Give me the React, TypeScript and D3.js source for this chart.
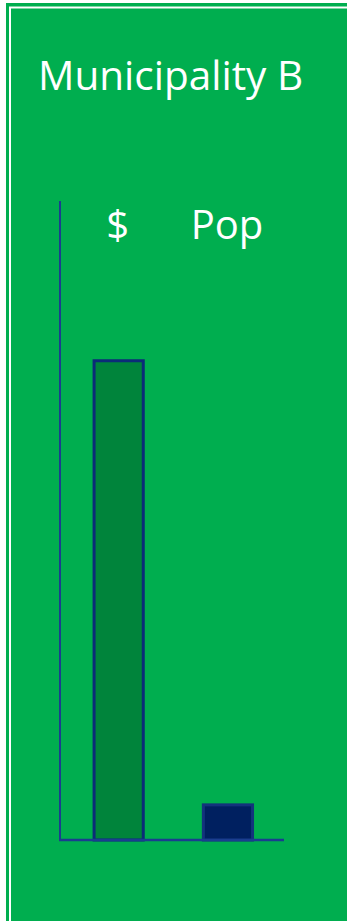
import React from "react";
import * as d3 from "d3";

// Chart data
const categories: string[] = ["$", "Pop"];
const shares: number[] = [75, 5.5];
const barFills: string[] = ["#00843B", "#002060"];
const barStrokes: string[] = ["#0B2C78", "#13337C"];
const title = "Municipality B";

const W = 347;
const H = 921;

export default function App() {
  const x = d3
    .scaleBand<string>()
    .domain(categories)
    .range([60, 284])
    .paddingInner(0.55)
    .paddingOuter(0.3)
    .align(0.52);

  const y = d3.scaleLinear().domain([0, 100]).range([840, 201]);

  const font = "'Open Sans', 'DejaVu Sans', sans-serif";

  return (
    <svg
      width={W}
      height={H}
      style={{ position: "absolute", left: 0, top: 0, display: "block" }}
    >
      <rect x={0} y={0} width={W} height={H} fill="#ffffff" />
      <rect x={6} y={3} width={W} height={H} fill="#00AE4F" />
      <rect
        x={10}
        y={7.5}
        width={W + 20}
        height={H + 20}
        fill="none"
        stroke="#ffffff"
        strokeWidth={2}
      />

      <text
        x={38}
        y={90}
        fill="#ffffff"
        fontFamily={font}
        fontSize={40.5}
      >
        {title}
      </text>

      {/* category labels above the plot */}
      {categories.map((c) => (
        <text
          key={"lbl-" + c}
          x={(x(c) ?? 0) + x.bandwidth() / 2 - 1}
          y={239}
          fill="#ffffff"
          fontFamily={font}
          fontSize={40}
          textAnchor="middle"
        >
          {c}
        </text>
      ))}

      {/* bars */}
      {categories.map((c, i) => (
        <rect
          key={"bar-" + c}
          x={x(c) ?? 0}
          y={y(shares[i])}
          width={x.bandwidth()}
          height={y(0) - y(shares[i])}
          fill={barFills[i]}
          stroke={barStrokes[i]}
          strokeWidth={3}
        />
      ))}

      {/* axes */}
      <line x1={60} x2={60} y1={y.range()[1]} y2={y(0)} stroke="#1A3D8F" strokeWidth={2} />
      <line x1={59} x2={284} y1={y(0)} y2={y(0)} stroke="#1A3D8F" strokeWidth={2.5} />
    </svg>
  );
}
